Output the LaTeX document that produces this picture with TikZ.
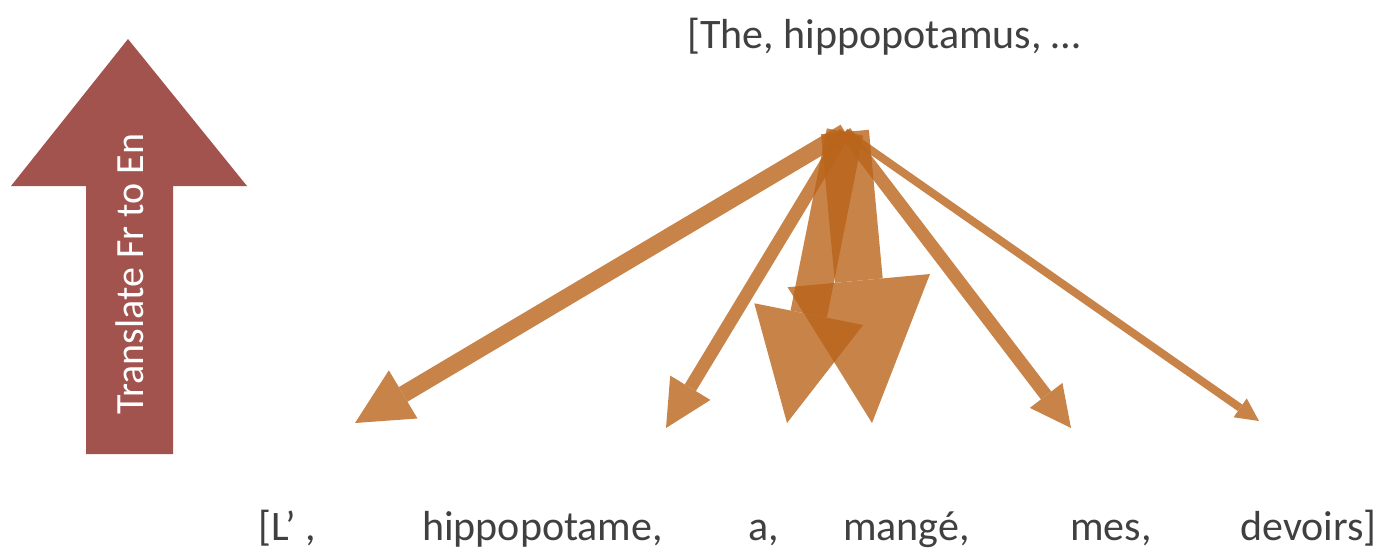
\documentclass[tikz,border=0pt]{standalone}
\usepackage{fontspec}
\setmainfont{Carlito}
\usetikzlibrary{arrows.meta}
\definecolor{slidegray}{HTML}{404040}
\definecolor{translred}{HTML}{A3534E}
\definecolor{attnorange}{HTML}{B9641A}
\tikzset{
  wordlabel/.style={
    font=\fontsize{42}{50}\selectfont,
    text=slidegray,
    anchor=base west,
    inner sep=0pt
  },
  attnlink/.style={
    draw=attnorange,
    line cap=butt
  }
}

\begin{document}
\begin{tikzpicture}[x=1pt,y=-1pt]
    \useasboundingbox (0,0) rectangle (1377,550);

    % big up arrow on the left
    \fill[translred] (128,39) -- (247,186) -- (173,186) -- (173,454)
        -- (86,454) -- (86,186) -- (11,186) -- cycle;
    \node[rotate=90, text=white, inner sep=0pt, font=\fontsize{40}{46}\selectfont] (trans) at (130,274) {Translate Fr to En};

    % sentences
    \node[wordlabel] (target) at (687,48) {[The, hippopotamus, …};
    \node[wordlabel] (wL) at (258,540) {[L’ ,};
    \node[wordlabel] (wH) at (422,540) {hippopotame,};
    \node[wordlabel] (wA) at (748,540) {a,};
    \node[wordlabel] (wM) at (843,540) {mangé,};
    \node[wordlabel] (wS) at (1070,540) {mes,};
    \node[wordlabel] (wD) at (1240,540) {devoirs]};

    % attention arrows
    \coordinate (root) at (845,132);
    \coordinate (tipL) at (355,423);
    \coordinate (tipH) at (666,428);
    \coordinate (tipA) at (787,423);
    \coordinate (tipM) at (872,423);
    \coordinate (tipS) at (1071,428);
    \coordinate (tipD) at (1259,421);
    \foreach \tip/\shaft/\head in {tipL/17/56, tipH/13/47, tipA/37/111, tipM/48/143, tipS/13/41, tipD/8/23}{
        \begin{scope}[transparency group, opacity=.8]
            \draw[attnlink, line width=\shaft pt, -{Triangle[length=\head pt, width=\head pt, line width=0pt]}] (root) -- (\tip);
        \end{scope}
    }
\end{tikzpicture}
\end{document}
